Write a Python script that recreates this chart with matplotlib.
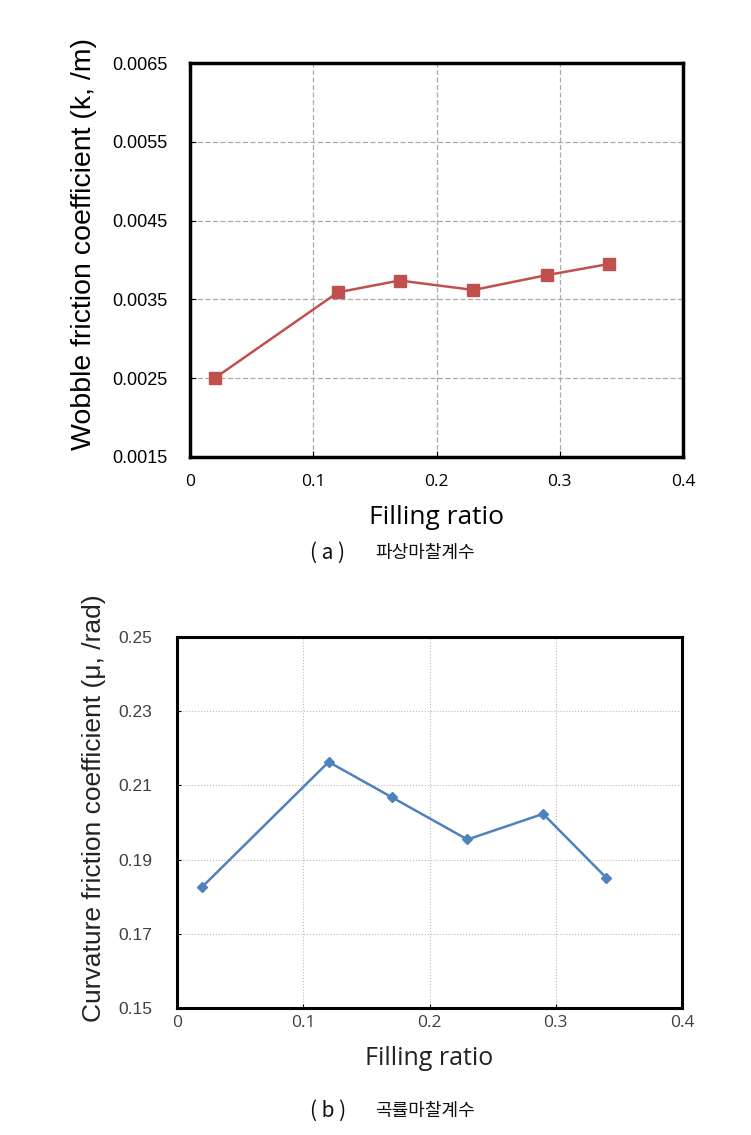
import matplotlib
matplotlib.use('Agg')
import matplotlib.pyplot as plt

# filling ratio vs friction coefficients
filling_ratio = [0.02, 0.12, 0.17, 0.23, 0.29, 0.34]
wobble_k = [0.00250, 0.00359, 0.00374, 0.00362, 0.00381, 0.00395]
curvature_mu = [0.1827, 0.2163, 0.2068, 0.1954, 0.2023, 0.1851]

x_ticks = [0, 0.1, 0.2, 0.3, 0.4]
x_tick_labels = ['0', '0.1', '0.2', '0.3', '0.4']
k_ticks = [0.0015, 0.0025, 0.0035, 0.0045, 0.0055, 0.0065]
mu_ticks = [0.15, 0.17, 0.19, 0.21, 0.23, 0.25]

plt.rcParams['font.family'] = ['Liberation Sans', 'Noto Sans CJK KR', 'DejaVu Sans']
seg = ['Open Sans', 'DejaVu Sans']
kor = ['Noto Sans CJK KR', 'DejaVu Sans']

fig = plt.figure(figsize=(7.51, 11.35), dpi=100)

# (a) wobble friction coefficient
ax1 = fig.add_axes([0.253, 0.5974, 0.6565, 0.347])
ax1.plot(filling_ratio, wobble_k, color='#C0504D', marker='s', markersize=9,
         linewidth=1.8, zorder=3)
ax1.set_xlim(0, 0.4)
ax1.set_ylim(0.0015, 0.0065)
ax1.set_xticks(x_ticks)
ax1.set_xticklabels(x_tick_labels, family=seg, fontsize=12.5)
ax1.set_yticks(k_ticks)
ax1.set_yticklabels(['%.4f' % v for v in k_ticks], fontsize=13)
ax1.grid(True, linestyle=(0, (4, 2)), color='#AAAAAA', linewidth=0.9)
ax1.tick_params(axis='y', direction='in', length=4, pad=16)
ax1.tick_params(axis='x', direction='in', length=4, pad=12)
for sp in ax1.spines.values():
  sp.set_linewidth(2.5)
ax1.set_xlabel('Filling ratio', fontsize=19, family=seg, labelpad=11)
ax1.set_ylabel('Wobble friction coefficient (k, /m)', fontsize=20.5, labelpad=11)
ax1.yaxis.label.set_y(0.54)
cap_y = 1 - 553 / 1135
fig.text(310 / 751, cap_y, '( a )', ha='left', va='center',
         fontsize=15, family=kor, color='#111111')
fig.text(375 / 751, cap_y, '파상마찰계수', ha='left', va='center',
         fontsize=13, family=kor, color='#111111')

# (b) curvature friction coefficient
ax2 = fig.add_axes([0.236, 0.1119, 0.672, 0.327])
ax2.plot(filling_ratio, curvature_mu, color='#4F81BD', marker='D', markersize=5,
         linewidth=1.8, zorder=3)
ax2.set_xlim(0, 0.4)
ax2.set_ylim(0.15, 0.25)
ax2.set_xticks(x_ticks)
ax2.set_xticklabels(x_tick_labels, family=seg, fontsize=12.5)
ax2.set_yticks(mu_ticks)
ax2.set_yticklabels(['%.2f' % v for v in mu_ticks], fontsize=12.5)
ax2.grid(True, linestyle=':', color='#BBBBBB', linewidth=0.8)
ax2.tick_params(axis='y', direction='in', length=3, pad=18, labelcolor='#404040')
ax2.tick_params(axis='x', direction='in', length=3, pad=5, labelcolor='#404040')
for sp in ax2.spines.values():
  sp.set_linewidth(2.2)
ax2.set_xlabel('Filling ratio', fontsize=18, family=seg, labelpad=11, color='#222222')
ax2.set_ylabel('Curvature friction coefficient (μ, /rad)', fontsize=19, labelpad=9,
               color='#222222')
ax2.yaxis.label.set_y(0.538)
cap_y = 1 - 1111 / 1135
fig.text(310 / 751, cap_y, '( b )', ha='left', va='center',
         fontsize=15, family=kor, color='#111111')
fig.text(375 / 751, cap_y, '곡률마찰계수', ha='left', va='center',
         fontsize=13, family=kor, color='#111111')

fig.savefig('out.png', dpi=100)
